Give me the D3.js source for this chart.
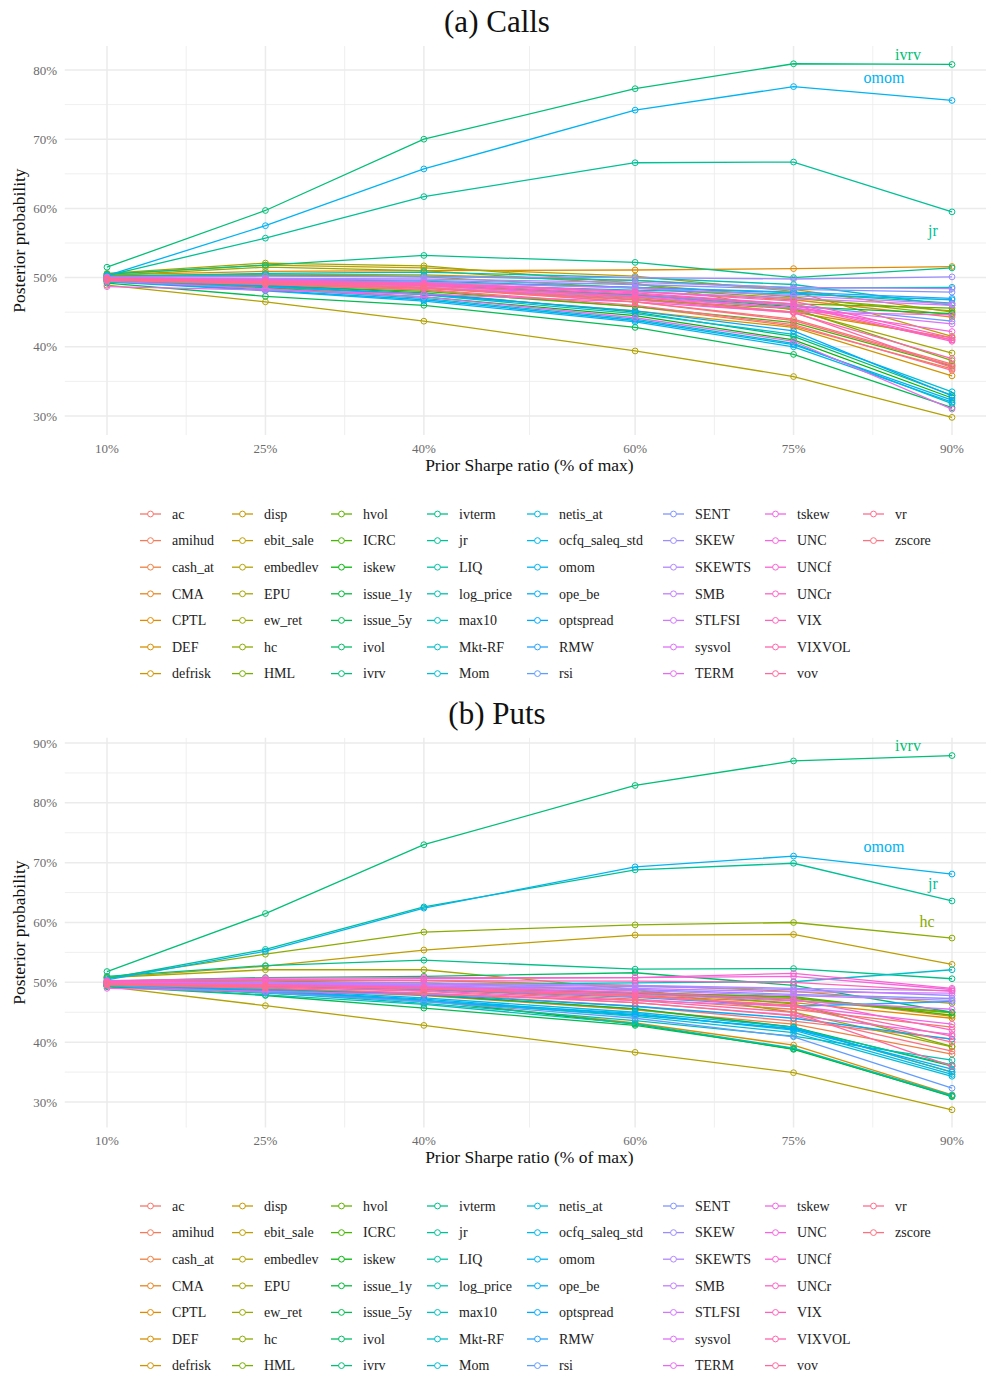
<!DOCTYPE html>
<html><head><meta charset="utf-8">
<script src="https://cdn.jsdelivr.net/npm/d3@7"></script>
<style>body{margin:0;background:#fff} svg{display:block}</style>
</head><body><svg id="c" width="986" height="1375"></svg>
<script>
// ---------------- DATA ----------------
const seriesNames = ["ac","amihud","cash_at","CMA","CPTL","DEF","defrisk",
  "disp","ebit_sale","embedlev","EPU","ew_ret","hc","HML",
  "hvol","ICRC","iskew","issue_1y","issue_5y","ivol","ivrv",
  "ivterm","jr","LIQ","log_price","max10","Mkt-RF","Mom",
  "netis_at","ocfq_saleq_std","omom","ope_be","optspread","RMW","rsi",
  "SENT","SKEW","SKEWTS","SMB","STLFSI","sysvol","TERM",
  "tskew","UNC","UNCf","UNCr","VIX","VIXVOL","vov",
  "vr","zscore"];
const priorLevels = [10, 25, 40, 60, 75, 90];
const xTickLabels = ["10%","25%","40%","60%","75%","90%"];
const callsYTicks = [30, 40, 50, 60, 70, 80];
const putsYTicks = [30, 40, 50, 60, 70, 80, 90];

// Panel (a) Calls, posterior probability (%) at each prior level
const callsValues = [
  [49.8, 49.2, 48.5, 46.5, 44.0, 37.5], // ac
  [49.9, 49.5, 49.0, 47.5, 45.5, 41.0], // amihud
  [49.7, 49.0, 48.2, 45.8, 43.0, 36.8], // cash_at
  [50.0, 49.6, 49.2, 48.0, 46.8, 44.3], // CMA
  [50.4, 50.9, 51.0, 51.1, 51.3, 51.6], // CPTL
  [49.8, 49.3, 48.6, 47.0, 45.0, 41.3], // DEF
  [49.6, 48.6, 47.6, 45.2, 42.8, 35.8], // defrisk
  [50.2, 50.5, 50.4, 49.6, 48.3, 45.0], // disp
  [50.5, 51.8, 51.4, 50.2, 48.0, 41.5], // ebit_sale
  [48.9, 46.5, 43.7, 39.4, 35.7, 29.8], // embedlev
  [50.6, 52.1, 51.7, 49.2, 45.3, 39.1], // EPU
  [50.3, 51.5, 51.0, 49.0, 47.2, 44.6], // ew_ret
  [50.1, 50.4, 50.1, 48.5, 47.0, 45.2], // hc
  [49.7, 49.2, 48.5, 46.8, 45.5, 38.0], // HML
  [49.9, 49.6, 49.0, 47.6, 46.2, 45.6], // hvol
  [49.6, 48.8, 48.0, 45.8, 43.5, 37.2], // ICRC
  [49.4, 48.5, 47.2, 44.5, 41.0, 32.6], // iskew
  [50.0, 49.6, 49.0, 47.5, 45.8, 44.8], // issue_1y
  [49.2, 47.3, 46.0, 42.8, 38.9, 31.2], // issue_5y
  [49.7, 48.9, 47.8, 45.0, 41.5, 33.0], // ivol
  [51.5, 59.7, 70.0, 77.3, 80.9, 80.8], // ivrv
  [50.5, 51.8, 53.2, 52.2, 50.0, 51.4], // ivterm
  [50.3, 55.7, 61.7, 66.6, 66.7, 59.5], // jr
  [49.9, 49.8, 49.5, 48.6, 47.8, 46.3], // LIQ
  [50.2, 50.6, 50.8, 50.0, 49.0, 46.0], // log_price
  [49.6, 48.4, 47.0, 44.0, 40.5, 31.8], // max10
  [50.1, 50.3, 50.2, 49.6, 48.5, 48.6], // Mkt-RF
  [49.7, 48.7, 47.5, 44.8, 41.8, 33.5], // Mom
  [49.8, 49.4, 49.0, 48.2, 47.6, 46.8], // netis_at
  [49.4, 48.1, 46.6, 43.6, 40.0, 32.0], // ocfq_saleq_std
  [50.3, 57.5, 65.7, 74.2, 77.6, 75.6], // omom
  [49.5, 48.2, 46.8, 43.8, 40.3, 32.3], // ope_be
  [49.8, 48.8, 47.6, 45.2, 42.3, 32.9], // optspread
  [50.0, 49.7, 49.3, 48.6, 47.9, 47.0], // RMW
  [49.9, 49.4, 48.8, 47.4, 46.0, 43.7], // rsi
  [49.9, 49.8, 49.6, 49.0, 48.3, 47.9], // SENT
  [50.1, 50.2, 50.1, 50.0, 49.8, 50.1], // SKEW
  [50.0, 49.9, 49.8, 49.3, 48.6, 48.4], // SKEWTS
  [49.9, 49.6, 49.3, 48.5, 47.4, 46.2], // SMB
  [49.8, 49.5, 49.1, 48.0, 47.0, 46.0], // STLFSI
  [49.7, 49.2, 48.6, 47.1, 45.6, 43.3], // sysvol
  [49.5, 48.4, 47.2, 44.2, 40.8, 31.0], // TERM
  [48.7, 48.2, 47.6, 46.5, 45.0, 44.6], // tskew
  [49.8, 49.3, 48.8, 47.3, 45.6, 42.2], // UNC
  [50.0, 49.7, 49.2, 47.8, 46.2, 41.0], // UNCf
  [49.8, 49.5, 49.0, 47.6, 46.0, 40.8], // UNCr
  [49.9, 49.6, 49.2, 48.0, 46.6, 41.3], // VIX
  [49.7, 49.1, 48.5, 46.8, 44.9, 38.3], // VIXVOL
  [49.8, 49.4, 48.9, 47.2, 45.0, 37.0], // vov
  [49.6, 49.0, 48.3, 46.0, 43.2, 36.6], // vr
  [49.7, 49.2, 48.6, 46.5, 43.8, 37.3]  // zscore
];

// Panel (b) Puts
const putsValues = [
  [49.7, 49.0, 48.2, 46.0, 43.5, 40.5], // ac
  [49.8, 49.4, 48.8, 47.2, 45.5, 42.5], // amihud
  [49.6, 48.8, 47.8, 45.4, 43.0, 38.0], // cash_at
  [49.9, 49.6, 49.2, 48.3, 47.5, 44.3], // CMA
  [50.0, 49.6, 49.0, 47.8, 46.6, 44.0], // CPTL
  [49.5, 48.4, 47.0, 43.2, 39.5, 31.2], // DEF
  [49.7, 48.9, 47.9, 45.5, 42.5, 35.0], // defrisk
  [50.2, 50.4, 50.3, 49.5, 48.5, 46.5], // disp
  [50.8, 52.7, 55.4, 57.9, 58.0, 53.0], // ebit_sale
  [49.3, 46.1, 42.8, 38.3, 34.9, 28.7], // embedlev
  [50.8, 52.1, 52.1, 48.8, 45.0, 39.2], // EPU
  [50.0, 49.7, 49.3, 48.2, 47.0, 44.9], // ew_ret
  [50.8, 54.7, 58.4, 59.6, 60.0, 57.4], // hc
  [50.1, 50.2, 49.9, 48.6, 46.4, 39.3], // HML
  [49.8, 49.4, 48.9, 48.0, 47.3, 45.0], // hvol
  [50.0, 49.7, 49.2, 48.2, 47.6, 44.5], // ICRC
  [49.4, 48.2, 47.0, 43.0, 38.8, 31.0], // iskew
  [49.7, 48.9, 47.9, 45.6, 42.5, 36.0], // issue_1y
  [49.3, 47.8, 45.7, 42.8, 38.9, 30.9], // issue_5y
  [50.2, 50.8, 51.0, 51.6, 49.5, 45.0], // ivol
  [51.8, 61.5, 73.0, 82.9, 87.0, 87.9], // ivrv
  [51.0, 52.8, 53.7, 52.2, 52.3, 50.6], // ivterm
  [50.6, 55.5, 62.6, 68.8, 69.9, 63.6], // jr
  [49.6, 48.4, 46.8, 44.5, 42.3, 36.2], // LIQ
  [49.5, 48.3, 46.5, 43.6, 41.0, 37.0], // log_price
  [49.4, 47.9, 46.3, 43.1, 39.0, 31.1], // max10
  [50.0, 49.8, 49.6, 49.9, 50.1, 52.1], // Mkt-RF
  [49.6, 48.6, 47.0, 44.3, 41.6, 34.3], // Mom
  [49.7, 48.8, 47.4, 45.0, 42.5, 35.0], // netis_at
  [49.5, 48.4, 46.9, 44.8, 42.0, 34.6], // ocfq_saleq_std
  [50.4, 55.2, 62.4, 69.3, 71.1, 68.1], // omom
  [49.6, 48.6, 47.2, 44.6, 42.2, 35.5], // ope_be
  [49.8, 49.0, 48.0, 46.0, 44.0, 40.5], // optspread
  [49.9, 49.4, 48.8, 47.5, 46.0, 46.8], // RMW
  [49.5, 48.3, 46.8, 44.0, 40.9, 32.3], // rsi
  [49.9, 49.7, 49.4, 48.8, 48.0, 47.3], // SENT
  [50.0, 49.9, 49.7, 49.3, 48.8, 47.8], // SKEW
  [50.1, 50.0, 49.9, 49.5, 49.0, 48.6], // SKEWTS
  [49.9, 49.6, 49.3, 48.6, 47.8, 47.0], // SMB
  [50.0, 49.8, 49.6, 49.0, 48.4, 48.2], // STLFSI
  [49.8, 49.5, 49.1, 48.0, 46.9, 45.5], // sysvol
  [49.7, 49.2, 48.5, 46.6, 44.5, 41.3], // TERM
  [49.0, 48.5, 48.0, 47.0, 46.0, 43.0], // tskew
  [50.2, 50.5, 50.6, 50.8, 51.0, 48.8], // UNC
  [50.3, 50.7, 50.8, 50.8, 51.5, 49.0], // UNCf
  [49.9, 49.6, 49.2, 48.3, 47.2, 42.0], // UNCr
  [50.1, 50.3, 50.3, 50.2, 50.0, 48.5], // VIX
  [49.8, 49.4, 48.9, 47.6, 46.2, 41.0], // VIXVOL
  [49.7, 49.2, 48.6, 47.0, 45.0, 36.0], // vov
  [49.8, 49.5, 49.0, 47.8, 46.0, 40.0], // vr
  [49.6, 49.0, 48.2, 46.6, 44.4, 38.5]  // zscore
];

const callsLabels = ["ivrv", "omom", "jr"];
const putsLabels = ["ivrv", "omom", "jr", "hc"];

// ---------------- STYLE / LAYOUT ----------------
const FONT = "'Liberation Serif', 'DejaVu Serif', serif";
const labelOffsets = {
  a: {ivrv: [-44, -10], omom: [-68, -23], jr: [-19, 19]},
  b: {ivrv: [-44, -10], omom: [-68, -28], jr: [-19, -18], hc: [-25, -17]}
};

// ggplot2 hue_pal(): hcl(h, c=100, l=65) in polar LUV
function hclLuv(h, c, l) {
  const hr = h * Math.PI / 180;
  const U = c * Math.cos(hr), V = c * Math.sin(hr);
  const Xn = 95.047, Yn = 100.0, Zn = 108.883;
  const den = Xn + 15 * Yn + 3 * Zn;
  const un = 4 * Xn / den, vn = 9 * Yn / den;
  const Y = l > 8 ? Yn * Math.pow((l + 16) / 116, 3) : Yn * l / 903.3;
  const u = U / (13 * l) + un, v = V / (13 * l) + vn;
  const X = 9.0 * Y * u / (4 * v);
  const Z = -X / 3 - 5 * Y + 3 * Y / v;
  const x = X / 100, y = Y / 100, z = Z / 100;
  let r = 3.240479 * x - 1.537150 * y - 0.498535 * z;
  let g = -0.969256 * x + 1.875992 * y + 0.041556 * z;
  let b = 0.055648 * x - 0.204043 * y + 1.057311 * z;
  const gam = t => t <= 0.0031308 ? 12.92 * t : 1.055 * Math.pow(t, 1 / 2.4) - 0.055;
  const cl = t => Math.max(0, Math.min(255, Math.round(gam(t) * 255)));
  return d3.rgb(cl(r), cl(g), cl(b)).formatHex();
}
const nS = seriesNames.length;
const colors = seriesNames.map((_, i) => hclLuv(15 + 360 * i / nS, 100, 65));
const color = d3.scaleOrdinal().domain(seriesNames).range(colors);

const svg = d3.select("#c");

function drawPanel(cfg) {
  const g = svg.append("g");
  const x = d3.scaleLinear().domain([10, 90]).range([107, 952]);
  const y = d3.scaleLinear().domain([cfg.yTicks[0], cfg.yTicks[cfg.yTicks.length - 1]])
    .range([cfg.y0, cfg.y1]);

  const allV = cfg.values.flat();
  const ext = d3.extent(allV);
  const ypad = (ext[1] - ext[0]) * 0.05;
  const yLo = ext[0] - ypad, yHi = ext[1] + ypad;
  const xLo = 10 - 80 * 0.05, xHi = 90 + 80 * 0.05;
  const top = y(yHi), bot = y(yLo), left = x(xLo), right = x(xHi);

  // title
  g.append("text").attr("x", 497).attr("y", cfg.titleY)
    .attr("text-anchor", "middle").attr("font-family", FONT)
    .attr("font-size", 31).attr("fill", "#111").text(cfg.title);

  // grid: minor
  const xMinor = d3.pairs(priorLevels).map(([a, b]) => (a + b) / 2);
  const yt = cfg.yTicks;
  const step = yt[1] - yt[0];
  let yMinor = d3.pairs(yt).map(([a, b]) => (a + b) / 2);
  yMinor.push(yt[0] - step / 2, yt[yt.length - 1] + step / 2);
  yMinor = yMinor.filter(v => v >= yLo && v <= yHi);

  g.append("g").selectAll("line").data(yMinor).join("line")
    .attr("x1", left).attr("x2", right).attr("y1", d => y(d)).attr("y2", d => y(d))
    .attr("stroke", "#ebebeb").attr("stroke-width", 0.8);
  g.append("g").selectAll("line").data(xMinor).join("line")
    .attr("y1", top).attr("y2", bot).attr("x1", d => x(d)).attr("x2", d => x(d))
    .attr("stroke", "#ebebeb").attr("stroke-width", 0.8);
  g.append("g").selectAll("line").data(yt).join("line")
    .attr("x1", left).attr("x2", right).attr("y1", d => y(d)).attr("y2", d => y(d))
    .attr("stroke", "#ebebeb").attr("stroke-width", 1.5);
  g.append("g").selectAll("line").data(priorLevels).join("line")
    .attr("y1", top).attr("y2", bot).attr("x1", d => x(d)).attr("x2", d => x(d))
    .attr("stroke", "#ebebeb").attr("stroke-width", 1.5);

  // axes tick labels
  g.append("g").selectAll("text").data(yt).join("text")
    .attr("x", 57).attr("y", d => y(d) + 4.5).attr("text-anchor", "end")
    .attr("font-family", FONT).attr("font-size", 13).attr("fill", "#6b6b6b")
    .text(d => d + "%");
  g.append("g").selectAll("text").data(priorLevels).join("text")
    .attr("x", d => x(d)).attr("y", bot + 18).attr("text-anchor", "middle")
    .attr("font-family", FONT).attr("font-size", 13).attr("fill", "#6b6b6b")
    .text((d, i) => xTickLabels[i]);

  // axis titles
  g.append("text").attr("x", (left + Math.min(right, 986)) / 2 + 4).attr("y", bot + 36)
    .attr("text-anchor", "middle").attr("font-family", FONT).attr("font-size", 17.5)
    .attr("fill", "#111").text("Prior Sharpe ratio (% of max)");
  g.append("text").attr("transform", `translate(25,${(top + bot) / 2}) rotate(-90)`)
    .attr("text-anchor", "middle").attr("font-family", FONT).attr("font-size", 17.5)
    .attr("fill", "#111").text("Posterior probability");

  // series
  const line = d3.line().x((d, i) => x(priorLevels[i])).y(d => y(d));
  const sg = g.append("g");
  cfg.values.forEach((vals, si) => {
    const c = color(seriesNames[si]);
    sg.append("path").attr("d", line(vals)).attr("fill", "none")
      .attr("stroke", c).attr("stroke-width", 1.3);
    sg.append("g").selectAll("circle").data(vals).join("circle")
      .attr("cx", (d, i) => x(priorLevels[i])).attr("cy", d => y(d)).attr("r", 2.9)
      .attr("fill", "none").attr("stroke", c).attr("stroke-width", 1);
  });

  // labels
  cfg.labels.forEach(name => {
    const si = seriesNames.indexOf(name);
    const vals = cfg.values[si];
    const off = labelOffsets[cfg.key][name];
    g.append("text").attr("x", x(priorLevels[5]) + off[0])
      .attr("y", y(vals[5]) + off[1]).attr("dy", "0.35em")
      .attr("text-anchor", "middle").attr("font-family", FONT).attr("font-size", 16)
      .attr("fill", color(name)).text(name);
  });

  // legend
  const colX = [140, 232, 331, 427, 527, 663, 765, 863];
  const rows = 7, rowH = 26.6;
  const lg = g.append("g");
  seriesNames.forEach((name, i) => {
    const cx = colX[Math.floor(i / rows)];
    const cy = cfg.legendY + (i % rows) * rowH;
    const c = color(name);
    lg.append("line").attr("x1", cx).attr("x2", cx + 21).attr("y1", cy).attr("y2", cy)
      .attr("stroke", c).attr("stroke-width", 1.3);
    lg.append("circle").attr("cx", cx + 10.5).attr("cy", cy).attr("r", 2.9)
      .attr("fill", "#fff").attr("stroke", c).attr("stroke-width", 1);
    lg.append("text").attr("x", cx + 32).attr("y", cy + 4.8)
      .attr("font-family", FONT).attr("font-size", 14).attr("fill", "#222").text(name);
  });
}

drawPanel({key: "a", title: "(a) Calls", titleY: 32, values: callsValues, yTicks: callsYTicks,
  y0: 416, y1: 70, labels: callsLabels, legendY: 514});
drawPanel({key: "b", title: "(b) Puts", titleY: 724, values: putsValues, yTicks: putsYTicks,
  y0: 1102, y1: 743, labels: putsLabels, legendY: 1206});
</script>
</body></html>
